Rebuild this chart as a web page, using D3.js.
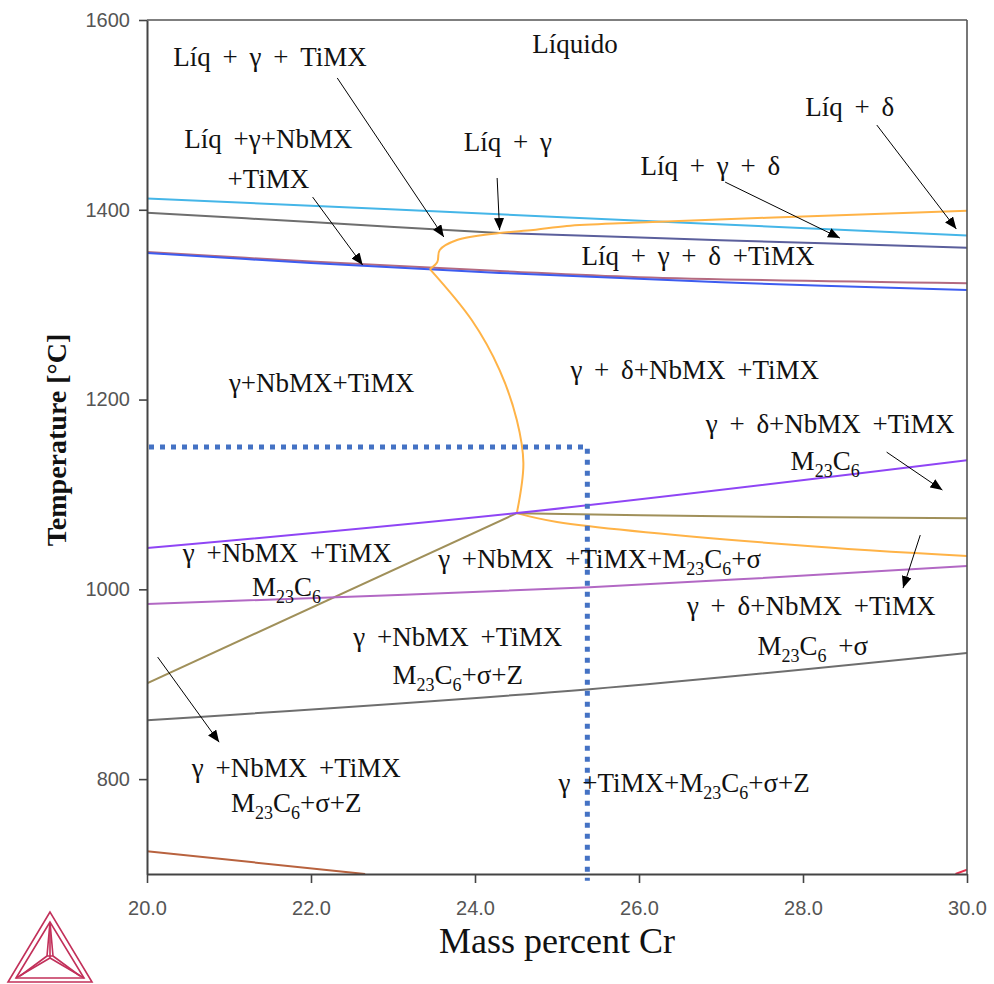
<!DOCTYPE html>
<html>
<head>
<meta charset="utf-8">
<script src="https://cdn.jsdelivr.net/npm/d3@7"></script>
<style>
  html, body { margin: 0; padding: 0; background: #fff; }
  svg { display: block; }
</style>
</head>
<body>
<svg id="chart" width="994" height="984"></svg>
<script>
// ---------- DATA ----------
const xDomain = [20, 30];
const yDomain = [700, 1600];
const xTicks = [20, 22, 24, 26, 28, 30];
const yTicks = [800, 1000, 1200, 1400, 1600];
const xTitle = "Mass percent Cr";
const yTitle = "Temperature [°C]";

// phase boundary lines: [Cr mass %, T °C]
const lineCyan    = [[20, 1412], [25, 1392.5], [30, 1373]];
const lineGrayTop = [[20, 1397], [22, 1387], [24.3, 1375.5]];
const lineSlate   = [[24.3, 1375.5], [27, 1368], [30, 1360]];
const lineRose    = [[20, 1355.5], [22, 1345.5], [24.3, 1335.5], [26, 1329], [30, 1322.5]];
const lineBlue    = [[20, 1354.5], [22, 1344], [24.3, 1333.5], [27, 1323.5], [30, 1315.5]];
const lineOrangeTop = [[30, 1399], [27.56, 1391.6], [25.93, 1386.3], [25.12, 1382.9], [24.71, 1378.6],
                       [24.30, 1375.5], [23.78, 1368.1], [23.57, 1357.6], [23.54, 1344.9], [23.45, 1337.5]];
const lineOrangeMid = [[23.45, 1337.5], [23.96, 1283.8], [24.30, 1231.1],
                       [24.51, 1178.4], [24.59, 1133.0], [24.51, 1080.3]];
const lineOrangeLow = [[24.51, 1080.3], [25.0, 1071], [27.9, 1046.6], [30, 1035]];
const lineOlive1 = [[20, 901], [24.51, 1080.3]];
const lineOlive2 = [[24.51, 1080.3], [27, 1077], [30, 1075]];
const lineViolet = [[20, 1043.5], [24.51, 1080.4], [30, 1136]];
const lineOrchid = [[20, 984.5], [25.4, 1002.3], [30, 1024.5]];
const lineGrayLow = [[20, 862], [25.4, 894.8], [30, 933]];
const lineBrown  = [[20, 724], [22.66, 700]];
const lineRed    = [[29.86, 700], [30, 704.5]];

const boundaryLines = [
  {pts: lineCyan, color: "#45b6e8"},
  {pts: lineGrayTop, color: "#6e6e6e"},
  {pts: lineSlate, color: "#5b5f9c"},
  {pts: lineRose, color: "#b46a80"},
  {pts: lineBlue, color: "#3d5cf0"},
  {pts: lineOrangeTop, color: "#ffb347"},
  {pts: lineOrangeMid, color: "#ffb347"},
  {pts: lineOrangeLow, color: "#ffb347"},
  {pts: lineOlive1, color: "#a0905a"},
  {pts: lineOlive2, color: "#a0905a"},
  {pts: lineViolet, color: "#8f45f5"},
  {pts: lineOrchid, color: "#b268c4"},
  {pts: lineGrayLow, color: "#6e6e6e"},
  {pts: lineBrown, color: "#b8623e"},
  {pts: lineRed, color: "#e8304e"}
];

// dotted reference box (Cr, T)
const refCr = 25.37;
const refT = 1150;
const refBottomT = 693;

// phase region labels: [text, Cr, T]
const labels = [
  ["Líquido", 25.22, 1565],
  ["Líq + γ + TiMX", 21.5, 1551.5],
  ["Líq +γ+NbMX", 21.48, 1465],
  ["+TiMX", 21.48, 1423],
  ["Líq + γ", 24.4, 1462],
  ["Líq + δ", 28.57, 1499],
  ["Líq + γ + δ", 26.87, 1436.6],
  ["Líq + γ + δ +TiMX", 26.72, 1341.8],
  ["γ+NbMX+TiMX", 22.13, 1208],
  ["γ + δ+NbMX +TiMX", 26.68, 1221.6],
  ["γ + δ+NbMX +TiMX", 28.33, 1164.7],
  ["M_{23}C_{6}", 28.27, 1125.7],
  ["γ +NbMX +TiMX", 21.71, 1028.7],
  ["M_{23}C_{6}", 21.7, 992.9],
  ["γ +NbMX +TiMX+M_{23}C_{6}+σ", 25.52, 1022.4],
  ["γ + δ+NbMX +TiMX", 28.10, 972.8],
  ["M_{23}C_{6} +σ", 28.12, 930.7],
  ["γ +NbMX +TiMX", 23.79, 940.2],
  ["M_{23}C_{6}+σ+Z", 23.79, 900.1],
  ["γ +NbMX +TiMX", 21.82, 802.1],
  ["M_{23}C_{6}+σ+Z", 21.82, 765.2],
  ["γ +TiMX+M_{23}C_{6}+σ+Z", 26.55, 786.3]
];

// arrows: [fromCr, fromT, toCr, toT]
const arrows = [
  [22.32, 1538.9, 23.62, 1371.3],
  [22.02, 1413.4, 22.63, 1341.7],
  [24.27, 1433.5, 24.30, 1378.6],
  [27.05, 1429.2, 28.45, 1370.2],
  [28.90, 1489.3, 29.87, 1379.7],
  [29.02, 1144.6, 29.70, 1104.6],
  [29.43, 1057.2, 29.22, 1001.3],
  [20.13, 928.6, 20.88, 838.9]
];

// ---------- LAYOUT ----------
const svg = d3.select("#chart");
const margin = {left: 147, top: 20, right: 27, bottom: 110};
const W = 994, H = 984;
const x = d3.scaleLinear().domain(xDomain).range([margin.left, W - margin.right]);
const y = d3.scaleLinear().domain(yDomain).range([H - margin.bottom, margin.top]);

const defs = svg.append("defs");
defs.append("clipPath").attr("id", "plotclip")
  .append("rect")
  .attr("x", x(20)).attr("y", y(1600))
  .attr("width", x(30) - x(20)).attr("height", y(700) - y(1600));
defs.append("marker")
  .attr("id", "arrowhead")
  .attr("viewBox", "0 0 12 10")
  .attr("refX", 12).attr("refY", 5)
  .attr("markerWidth", 12).attr("markerHeight", 10)
  .attr("markerUnits", "userSpaceOnUse")
  .attr("orient", "auto")
  .append("path").attr("d", "M0,0 L12,5 L0,10 Z").attr("fill", "#000");

// ---------- LINES ----------
const lineSmooth = d3.line().x(d => x(d[0])).y(d => y(d[1])).curve(d3.curveCatmullRom.alpha(0.5));

const g = svg.append("g").attr("clip-path", "url(#plotclip)");
boundaryLines.forEach(l => {
  g.append("path")
    .attr("d", lineSmooth(l.pts))
    .attr("fill", "none")
    .attr("stroke", l.color)
    .attr("stroke-width", 2)
    .attr("stroke-linejoin", "round");
});

// ---------- AXES ----------
const xAxis = d3.axisBottom(x).tickValues(xTicks).tickFormat(d3.format(".1f")).tickSize(9).tickSizeOuter(0);
const yAxis = d3.axisLeft(y).tickValues(yTicks).tickFormat(d3.format("d")).tickSize(8).tickSizeOuter(0);

const gx = svg.append("g").attr("transform", `translate(0,${y(700)})`).call(xAxis);
const gy = svg.append("g").attr("transform", `translate(${x(20)},0)`).call(yAxis);
[gx, gy].forEach(a => {
  a.select(".domain").attr("stroke", "#444").attr("stroke-width", 2);
  a.selectAll(".tick line").attr("stroke", "#444").attr("stroke-width", 1.6);
  a.selectAll(".tick text")
    .attr("fill", "#555")
    .style("font-family", "'Liberation Sans', Arial, sans-serif")
    .style("font-size", "20px");
});
gx.selectAll(".tick text").attr("dy", "1.45em");
gy.selectAll(".tick text").attr("dx", "-0.3em");

// top and right frame
svg.append("line")
  .attr("x1", x(20)).attr("x2", x(30)).attr("y1", y(1600)).attr("y2", y(1600))
  .attr("stroke", "#555").attr("stroke-width", 1.6);
svg.append("line")
  .attr("x1", x(30)).attr("x2", x(30)).attr("y1", y(1600)).attr("y2", y(700))
  .attr("stroke", "#555").attr("stroke-width", 1.6);

// axis titles
svg.append("text")
  .attr("x", x(25)).attr("y", 953)
  .attr("text-anchor", "middle")
  .style("font-family", "'Liberation Serif', 'Times New Roman', serif")
  .style("font-size", "36px")
  .attr("fill", "#111")
  .text(xTitle);
svg.append("text")
  .attr("transform", `translate(66,440) rotate(-90)`)
  .attr("text-anchor", "middle")
  .style("font-family", "'Liberation Serif', 'Times New Roman', serif")
  .style("font-size", "28px")
  .style("font-weight", "bold")
  .attr("fill", "#111")
  .text(yTitle);

// ---------- DOTTED REFERENCE BOX ----------
svg.append("path")
  .attr("d", d3.line()([[x(20) + 2, y(refT)], [x(refCr), y(refT)], [x(refCr), y(refBottomT)]]))
  .attr("fill", "none")
  .attr("stroke", "#4472c4")
  .attr("stroke-width", 5)
  .attr("stroke-dasharray", "5,6");

// ---------- ARROWS ----------
arrows.forEach(a => {
  svg.append("line")
    .attr("x1", x(a[0])).attr("y1", y(a[1]))
    .attr("x2", x(a[2])).attr("y2", y(a[3]))
    .attr("stroke", "#000").attr("stroke-width", 1)
    .attr("marker-end", "url(#arrowhead)");
});

// ---------- LABELS ----------
function addLabel(str, cx, cy) {
  const t = svg.append("text")
    .attr("x", x(cx)).attr("y", y(cy))
    .attr("text-anchor", "middle")
    .style("font-family", "'Liberation Serif', 'Times New Roman', serif")
    .style("font-size", "27px")
    .style("word-spacing", "5px")
    .attr("fill", "#111");
  const parts = str.split(/(_\{[^}]*\})/).filter(s => s.length);
  let sub = false;
  parts.forEach(p => {
    if (p.startsWith("_{")) {
      t.append("tspan").attr("dy", sub ? 0 : 7).style("font-size", "18px").text(p.slice(2, -1));
      sub = true;
    } else {
      t.append("tspan").attr("dy", sub ? -7 : 0).text(p);
      sub = false;
    }
  });
}
labels.forEach(l => addLabel(l[0], l[1], l[2]));

// ---------- LOGO ----------
const logo = svg.append("g").attr("fill", "none").attr("stroke", "#c2305a").attr("stroke-width", 1.6);
logo.append("path").attr("d", "M50,912 L8,982 L92,982 Z");
logo.append("path").attr("d", "M50,922 L16,978 L84,978 Z");
logo.append("path").attr("d", "M50,922 L50,958 M50,958 L16,978 M50,958 L84,978");
logo.append("path").attr("d", "M50,922 L47,956 L53,956 Z");
logo.append("path").attr("d", "M47,956 L20,976 M53,956 L80,976");
</script>
</body>
</html>
